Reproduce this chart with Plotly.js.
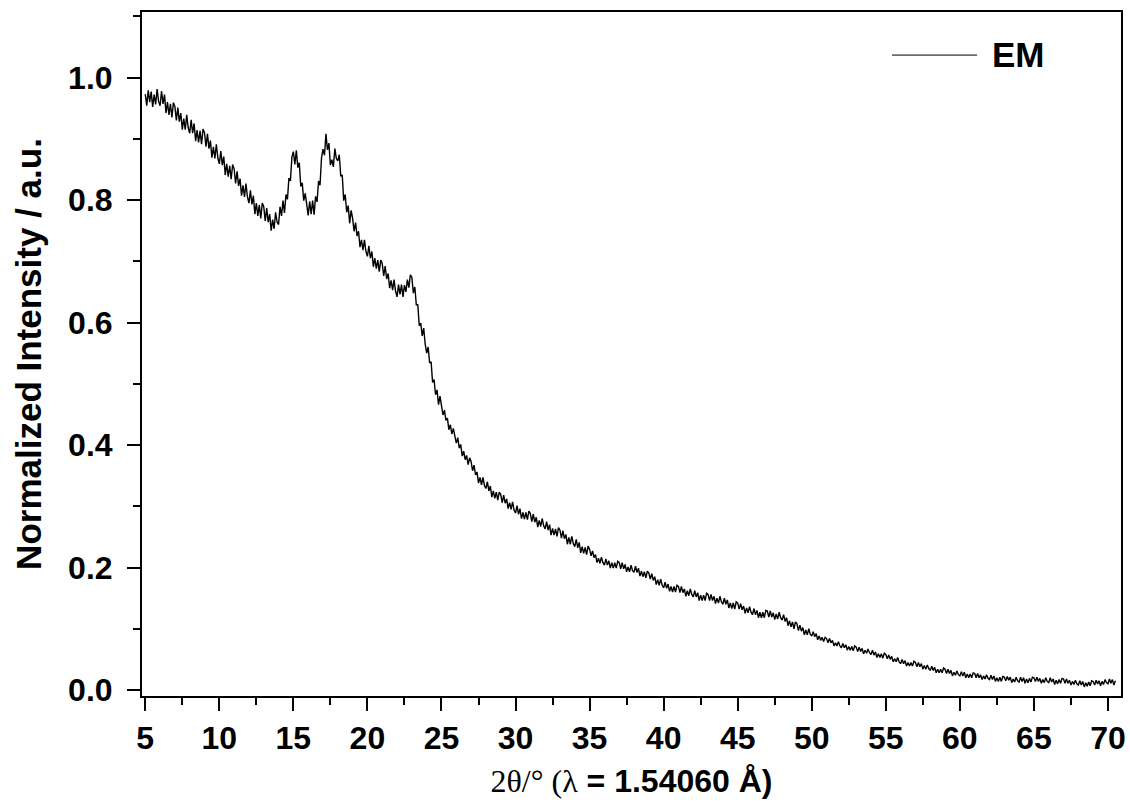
<!DOCTYPE html>
<html>
<head>
<meta charset="utf-8">
<script src="https://cdn.plot.ly/plotly-3.0.1.min.js"></script>
<style>html,body{margin:0;padding:0;background:#fff;}#chart{width:1130px;height:805px;}</style>
</head>
<body>
<div id="chart"></div>
<script>
// 2θ sampling grid of the scan (degrees)
const twoThetaStart = 5.0;
const twoThetaStep = 0.1;

// Normalized intensity, one row per degree (5.0 ... 70.5)
const intensityEM = [
  0.973,0.954,0.979,0.960,0.977,0.952,0.972,0.956,0.981,0.961, // 5
  0.954,0.978,0.957,0.972,0.942,0.960,0.939,0.957,0.935,0.959, // 6
  0.953,0.930,0.951,0.928,0.942,0.915,0.933,0.915,0.939,0.918, // 7
  0.909,0.931,0.909,0.925,0.896,0.914,0.894,0.913,0.891,0.916, // 8
  0.910,0.887,0.908,0.884,0.897,0.869,0.887,0.868,0.891,0.869, // 9
  0.859,0.880,0.857,0.871,0.841,0.859,0.838,0.856,0.834,0.858, // 10
  0.851,0.827,0.847,0.823,0.835,0.807,0.824,0.805,0.827,0.805, // 11
  0.795,0.816,0.793,0.807,0.777,0.795,0.774,0.792,0.770,0.795, // 12
  0.789,0.766,0.787,0.764,0.777,0.750,0.768,0.753,0.780,0.764, // 13
  0.760,0.789,0.774,0.799,0.779,0.809,0.801,0.836,0.831,0.870, // 14
  0.879,0.858,0.881,0.853,0.861,0.822,0.828,0.799,0.811,0.787, // 15
  0.775,0.798,0.777,0.799,0.776,0.806,0.797,0.831,0.824,0.869, // 16
  0.883,0.873,0.908,0.882,0.893,0.857,0.866,0.854,0.884,0.868, // 17
  0.864,0.874,0.839,0.841,0.799,0.809,0.780,0.791,0.762,0.783, // 18
  0.770,0.749,0.763,0.741,0.749,0.723,0.735,0.718,0.735,0.716, // 19
  0.708,0.725,0.705,0.716,0.691,0.705,0.688,0.702,0.683,0.702, // 20
  0.696,0.676,0.692,0.671,0.680,0.656,0.669,0.653,0.670,0.651, // 21
  0.642,0.662,0.646,0.662,0.642,0.661,0.650,0.670,0.657,0.678, // 22
  0.674,0.648,0.658,0.629,0.629,0.595,0.599,0.578,0.591,0.565, // 23
  0.550,0.560,0.534,0.536,0.502,0.507,0.482,0.490,0.466,0.480, // 24
  0.466,0.449,0.457,0.440,0.444,0.425,0.433,0.418,0.427,0.411, // 25
  0.403,0.412,0.395,0.401,0.382,0.390,0.376,0.383,0.368,0.379, // 26
  0.373,0.358,0.367,0.351,0.356,0.338,0.347,0.335,0.347,0.334, // 27
  0.329,0.340,0.325,0.333,0.315,0.325,0.313,0.323,0.310,0.323, // 28
  0.319,0.306,0.318,0.305,0.312,0.296,0.306,0.295,0.307,0.294, // 29
  0.289,0.301,0.287,0.296,0.280,0.290,0.279,0.290,0.278,0.292, // 30
  0.288,0.275,0.287,0.274,0.282,0.266,0.277,0.267,0.280,0.268, // 31
  0.263,0.275,0.261,0.270,0.253,0.264,0.253,0.263,0.251,0.265, // 32
  0.261,0.248,0.260,0.247,0.254,0.238,0.249,0.238,0.251,0.239, // 33
  0.234,0.246,0.232,0.241,0.224,0.234,0.223,0.233,0.221,0.235, // 34
  0.230,0.219,0.227,0.216,0.221,0.208,0.215,0.207,0.217,0.208, // 35
  0.204,0.214,0.204,0.211,0.199,0.208,0.199,0.208,0.199,0.210, // 36
  0.208,0.198,0.208,0.198,0.205,0.193,0.201,0.193,0.204,0.195, // 37
  0.192,0.202,0.192,0.199,0.186,0.194,0.185,0.193,0.183,0.194, // 38
  0.191,0.181,0.190,0.179,0.185,0.172,0.180,0.171,0.181,0.171, // 39
  0.167,0.176,0.166,0.173,0.161,0.169,0.160,0.169,0.160,0.171, // 40
  0.169,0.159,0.169,0.159,0.165,0.153,0.162,0.154,0.165,0.156, // 41
  0.152,0.162,0.152,0.159,0.146,0.155,0.146,0.155,0.146,0.158, // 42
  0.156,0.146,0.156,0.146,0.153,0.141,0.150,0.142,0.153,0.144, // 43
  0.140,0.150,0.140,0.147,0.134,0.142,0.133,0.142,0.132,0.144, // 44
  0.142,0.132,0.141,0.131,0.137,0.125,0.134,0.126,0.136,0.127, // 45
  0.123,0.133,0.123,0.130,0.118,0.127,0.118,0.127,0.118,0.130, // 46
  0.129,0.119,0.129,0.119,0.126,0.115,0.124,0.116,0.127,0.118, // 47
  0.114,0.123,0.112,0.118,0.105,0.113,0.103,0.111,0.100,0.111, // 48
  0.108,0.097,0.106,0.096,0.102,0.090,0.098,0.090,0.100,0.091, // 49
  0.088,0.095,0.087,0.092,0.082,0.088,0.081,0.086,0.079,0.086, // 50
  0.084,0.077,0.084,0.077,0.081,0.072,0.077,0.072,0.079,0.072, // 51
  0.069,0.076,0.069,0.074,0.065,0.071,0.065,0.071,0.064,0.072, // 52
  0.070,0.063,0.070,0.063,0.068,0.059,0.065,0.060,0.067,0.061, // 53
  0.058,0.065,0.057,0.062,0.053,0.059,0.053,0.059,0.052,0.060, // 54
  0.058,0.051,0.057,0.050,0.055,0.046,0.051,0.046,0.053,0.046, // 55
  0.043,0.050,0.043,0.048,0.039,0.045,0.039,0.045,0.039,0.047, // 56
  0.045,0.038,0.045,0.038,0.043,0.034,0.040,0.034,0.041,0.035, // 57
  0.032,0.039,0.032,0.037,0.028,0.034,0.028,0.034,0.028,0.036, // 58
  0.034,0.027,0.034,0.027,0.032,0.023,0.029,0.024,0.031,0.025, // 59
  0.023,0.030,0.023,0.029,0.020,0.026,0.020,0.026,0.020,0.028, // 60
  0.027,0.020,0.027,0.020,0.025,0.017,0.023,0.018,0.025,0.019, // 61
  0.017,0.024,0.017,0.023,0.014,0.020,0.014,0.021,0.014,0.022, // 62
  0.021,0.015,0.022,0.016,0.021,0.012,0.018,0.013,0.021,0.015, // 63
  0.013,0.021,0.014,0.020,0.011,0.018,0.012,0.019,0.013,0.021, // 64
  0.020,0.014,0.021,0.014,0.019,0.011,0.017,0.012,0.020,0.014, // 65
  0.012,0.020,0.013,0.018,0.009,0.016,0.010,0.017,0.011,0.019, // 66
  0.018,0.011,0.018,0.011,0.016,0.008,0.014,0.009,0.016,0.010, // 67
  0.008,0.015,0.008,0.014,0.005,0.012,0.006,0.013,0.007,0.015, // 68
  0.014,0.008,0.016,0.010,0.015,0.007,0.014,0.009,0.017,0.012, // 69
  0.010,0.018,0.011,0.017,0.008,0.015                          // 70
];

const seriesName = "EM";
const xTickValues = [5,10,15,20,25,30,35,40,45,50,55,60,65,70];
const yTickValues = [0.0,0.2,0.4,0.6,0.8,1.0];
const yTickLabels = ["0.0","0.2","0.4","0.6","0.8","1.0"];

const twoTheta = intensityEM.map((_, i) => +(twoThetaStart + i * twoThetaStep).toFixed(2));

const trace = {
  x: twoTheta,
  y: intensityEM,
  type: 'scatter',
  mode: 'lines',
  name: seriesName,
  line: {color: '#000', width: 1.4},
  showlegend: false,
  hoverinfo: 'skip'
};

const tickFont = {family: 'Liberation Sans, Arial, sans-serif', size: 32, color: '#000', weight: 'bold'};

const layout = {
  width: 1130,
  height: 805,
  margin: {l: 142, r: 9, t: 12, b: 109},
  paper_bgcolor: '#fff',
  plot_bgcolor: '#fff',
  showlegend: false,
  xaxis: {
    range: [4.78, 70.88],
    tickvals: xTickValues,
    ticktext: xTickValues.map(String),
    ticks: 'outside',
    ticklen: 13,
    tickwidth: 2,
    tickcolor: '#000',
    minor: {dtick: 2.5, tick0: 2.5, ticks: 'outside', ticklen: 7, tickwidth: 2, tickcolor: '#000', showgrid: false},
    showline: true,
    linewidth: 2,
    linecolor: '#000',
    mirror: true,
    showgrid: false,
    zeroline: false,
    tickfont: tickFont,
    ticklabelstandoff: 0,
    title: {
      text: '<span style="font-family:Liberation Serif;font-weight:normal">2θ/° (λ</span> = 1.54060 Å)',
      font: {family: 'Liberation Sans, Arial, sans-serif', size: 32, color: '#000', weight: 'bold'},
      standoff: 14
    }
  },
  yaxis: {
    range: [-0.0098, 1.107],
    tickvals: yTickValues,
    ticktext: yTickLabels,
    ticks: 'outside',
    ticklen: 13,
    tickwidth: 2,
    tickcolor: '#000',
    minor: {dtick: 0.1, tick0: 0.1, ticks: 'outside', ticklen: 7, tickwidth: 2, tickcolor: '#000', showgrid: false},
    showline: true,
    linewidth: 2,
    linecolor: '#000',
    mirror: true,
    showgrid: false,
    zeroline: false,
    tickfont: tickFont,
    ticklabelstandoff: 8,
    title: {
      text: 'Normalized Intensity / a.u.',
      font: {family: 'Liberation Sans, Arial, sans-serif', size: 35, color: '#000', weight: 'bold'},
      standoff: 16
    }
  },
  shapes: [
    {type: 'line', xref: 'paper', yref: 'paper', x0: 0.766, x1: 0.853, y0: 0.937, y1: 0.937,
     line: {color: '#000', width: 1}}
  ],
  annotations: [
    {xref: 'paper', yref: 'paper', x: 0.866, y: 0.938, xanchor: 'left', yanchor: 'middle',
     text: '<b>' + seriesName + '</b>', showarrow: false,
     font: {family: 'Liberation Sans, Arial, sans-serif', size: 35, color: '#000'}}
  ]
};

Plotly.newPlot('chart', [trace], layout, {staticPlot: true, displayModeBar: false});
</script>
</body>
</html>
